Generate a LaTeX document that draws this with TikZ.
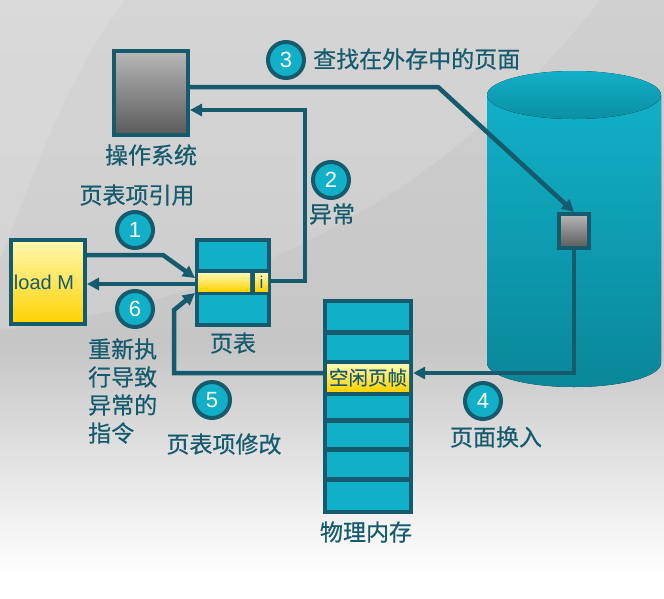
\documentclass[tikz,border=0pt]{standalone}
\usepackage{fontspec}
\setmainfont{Noto Sans CJK SC}[FakeBold=0.5]
\newfontfamily\latf{Liberation Sans}
\usetikzlibrary{arrows.meta}
\definecolor{dk}{HTML}{155B6D}
\definecolor{tl}{HTML}{11B0C8}
\definecolor{tld}{HTML}{0A8799}
\definecolor{tlt}{HTML}{0B8FA2}
\definecolor{yla}{HTML}{FFF8B4}
\definecolor{ylb}{HTML}{FFD200}
\definecolor{gra}{HTML}{B8B8B8}
\definecolor{grb}{HTML}{5A5A5A}
\definecolor{bgt}{HTML}{D0D0D0}
\definecolor{bgm}{HTML}{C6C6C6}
\pgfdeclareverticalshading{bgsh}{100bp}{color(0bp)=(white); color(27bp)=(white); color(46bp)=(bgm); color(75bp)=(bgt); color(100bp)=(bgt)}
\begin{document}
\begin{tikzpicture}[x=1pt,y=-1pt,
  lbl/.style={text=dk, font=\fontsize{23}{27}\selectfont, inner sep=0pt},
  numc/.style={circle, fill=tl, draw=dk, line width=4pt, minimum size=36pt, inner sep=0pt, text=white, font=\latf\fontsize{22}{22}\selectfont},
  box/.style={draw=dk, line width=4pt, inner sep=0pt},
  cellf/.style={fill=tl},
  conn/.style={draw=dk, line width=4.5pt},
  arr/.style={conn, -{Triangle[length=12pt,width=12pt]}},
]
% background
\shade[shading=bgsh] (0,0) rectangle (664,598);
\useasboundingbox (0,0) rectangle (664,598);
\fill[white, opacity=0.22] (0,0) -- (125,0) .. controls (70,70) and (35,170) .. (0,260) -- cycle;
\fill[white, opacity=0.12] (125,0) -- (600,0) .. controls (460,180) and (260,300) .. (0,330) -- (0,260) .. controls (35,170) and (70,70) .. (125,0) -- cycle;

% cylinder (secondary storage)
\fill[top color=tl, bottom color=tld] (487,95) -- (487,363) arc[start angle=180, end angle=0, x radius=87, y radius=24] -- (661,95) -- cycle;
\fill[top color=tl, bottom color=tlt] (574,95) ellipse[x radius=87, y radius=24];

% operating system
\node[box, minimum width=74pt, minimum height=84pt, top color=gra, bottom color=grb] (os) at (151,93) {};
\node[lbl] (oslbl) at (151,155) {操作系统};

% load M
\node[box, minimum width=74pt, minimum height=84pt, top color=yla, bottom color=ylb, text=dk, font=\latf\fontsize{20}{20}\selectfont] (lm) at (48,282) {\hspace*{-8pt}load M};

% page table
\node[box, fill=tl, minimum width=72pt, minimum height=85pt] (pt) at (233,282.5) {};
\fill[dk] (198,269) rectangle (268,295);
\node[inner sep=0pt, minimum width=52pt, minimum height=18pt, top color=yla, bottom color=ylb] (ent) at (224,282) {};
\node[inner sep=0pt, minimum width=13pt, minimum height=18pt, top color=yla, bottom color=ylb, text=dk, font=\latf\fontsize{17}{17}\selectfont] (ic) at (261.5,282) {i};
\node[lbl] (ptlbl) at (233,343) {页表};

% physical memory
\node[fill=dk, inner sep=0pt, minimum width=90pt, minimum height=215pt] (mem) at (368,406.5) {};
\fill[cellf] (327,303) rectangle (409,330);
\fill[cellf] (327,334.5) rectangle (409,359.5);
\fill[cellf] (327,395.5) rectangle (409,418);
\fill[cellf] (327,422.5) rectangle (409,446.5);
\fill[cellf] (327,451.5) rectangle (409,476.5);
\fill[cellf] (327,481.5) rectangle (409,510);
\node[inner sep=0pt, minimum width=82pt, minimum height=27pt, top color=yla, bottom color=ylb, text=dk, font=\fontsize{19.5}{19.5}\selectfont] (fr) at (368,377.5) {空闲页帧};
\node[lbl] (memlbl) at (366,532) {物理内存};

% page on disk
\node[box, minimum width=30pt, minimum height=34pt, top color=gra, bottom color=grb] (sb) at (574,231) {};

% numbered circles and labels
\node[numc] (c1) at (135,230) {1};
\node[lbl] (l1) at (137,195) {页表项引用};
\node[numc] (c2) at (331,180) {2};
\node[lbl] (l2) at (332,214) {异常};
\node[numc] (c3) at (286,60) {3};
\node[lbl, anchor=west] (l3) at (313,59) {查找在外存中的页面};
\node[numc] (c4) at (483,401) {4};
\node[lbl] (l4) at (496,437) {页面换入};
\node[numc] (c5) at (212,400) {5};
\node[lbl] (l5) at (224,444) {页表项修改};
\node[numc] (c6) at (135,309) {6};
\node[lbl, anchor=west, align=left, font=\fontsize{23}{28}\selectfont] (l6) at (88,391) {重新执\\行导致\\异常的\\指令};

% connectors
\path ([yshift=4.5pt]fr.east) coordinate (q4);
\draw[arr] ([yshift=27pt]lm.east) -- (163,255) -- ([yshift=4.5pt]pt.west);
\draw[arr] ([yshift=1.5pt]pt.east) -- (305,281) |- ([yshift=-17pt]os.east);
\draw[arr] ([yshift=6pt]os.east) -- (438,87) -- (sb.north);
\draw[arr] (sb.south) |- (q4 -| mem.east);
\draw[arr] (q4 -| mem.west) -| (174,310) -- ([yshift=-10.5pt]pt.west);
\draw[arr] ([yshift=-1.5pt]pt.west) -- ([yshift=-2pt]lm.east);
\end{tikzpicture}
\end{document}
